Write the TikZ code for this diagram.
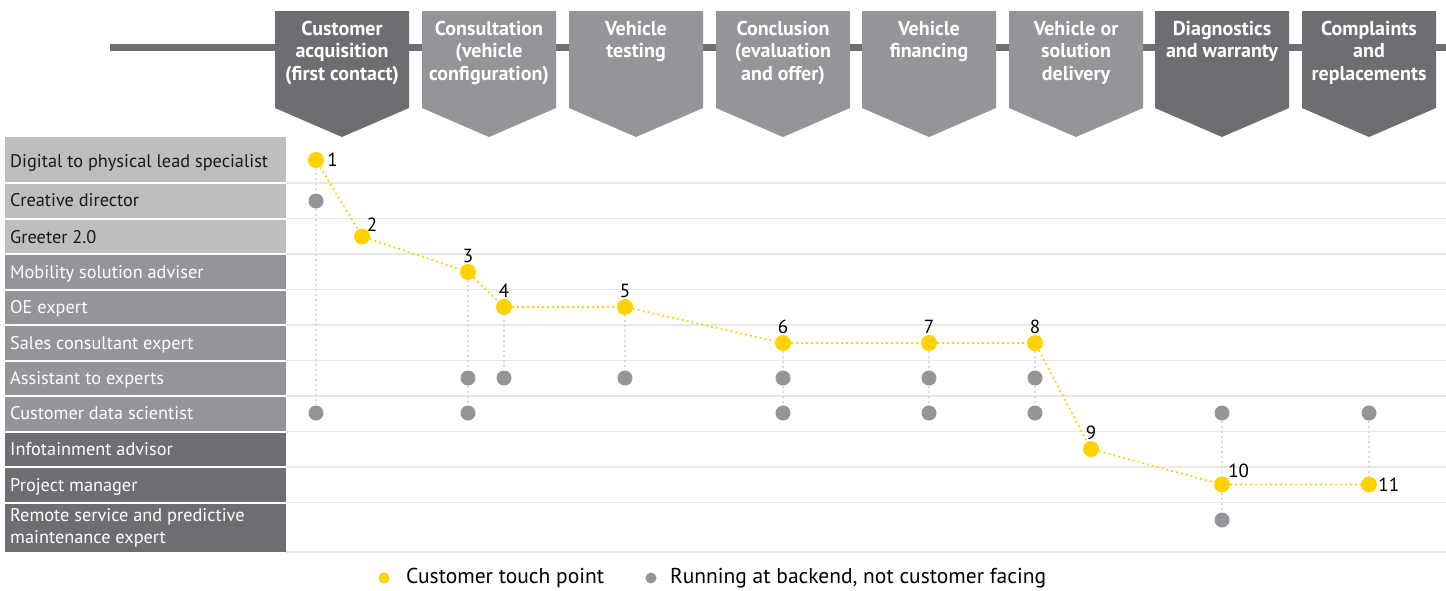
\documentclass[tikz,border=0pt]{standalone}
\usepackage{fontspec}
\setmainfont{PT Sans}
\definecolor{eydark}{HTML}{6D6E71}
\definecolor{eymid}{HTML}{939598}
\definecolor{eylight}{HTML}{BCBEC0}
\definecolor{eyrule}{HTML}{E6E7E8}
\definecolor{eydrop}{HTML}{D9DADB}
\definecolor{eyyellow}{HTML}{FFD200}
\tikzset{
  stagetext/.style={anchor=north, inner sep=0pt, align=center, text=white,
    font=\fontsize{20}{22.5}\selectfont\bfseries},
  rolelabel/.style={anchor=west, inner sep=0pt, align=left,
    font=\fontsize{18.3}{22}\selectfont},
  rolerow/.style={rolelabel, text height=13pt, text depth=0pt},
  touch/.style={circle, fill=eyyellow, inner sep=0pt, minimum size=16},
  backend/.style={circle, fill=eymid, inner sep=0pt, minimum size=15},
  num/.style={font=\fontsize{19}{21}\selectfont, inner sep=1pt},
  keytext/.style={anchor=west, inner sep=0pt, font=\fontsize{21.5}{24}\selectfont},
  touchline/.style={eyyellow, line width=1.8, dash pattern=on 1.8 off 3.2},
  dropline/.style={eydrop, line width=1.8, dash pattern=on 1.8 off 3.2},
}
\begin{document}
\begin{tikzpicture}[x=1pt, y=-1pt]
  \useasboundingbox (0,0) rectangle (1446,590);

  % Zeitachse oben
  \draw[eydark, line width=7] (110,47) -- (1446,47);

  % Phasen (Pfeilkaesten)
  \foreach \cx/\col/\txt in {342/eydark/{Customer\\acquisition\\(first contact)},
      489/eymid/{Consultation\\(vehicle\\configuration)},
      636/eymid/{Vehicle\\testing},
      783/eymid/{Conclusion\\(evaluation\\and offer)},
      929/eymid/{Vehicle\\financing},
      1076/eymid/{Vehicle or\\solution\\delivery},
      1222/eydark/{Diagnostics\\and warranty},
      1369/eydark/{Complaints\\and\\replacements}}{
    \fill[\col] (\cx-67,11) -- (\cx+67,11) -- (\cx+67,108) -- (\cx,137) -- (\cx-67,108) -- cycle;
    \node[stagetext] (stage\cx) at (\cx,21) {\txt};
  }

  % Rollen-Spalte links
  \fill[eylight] (5,137) rectangle (286,254);
  \fill[eymid] (5,254) rectangle (286,431.5);
  \fill[eydark] (5,431.5) rectangle (286,552);
  \foreach \ry in {183,218.5,254,289.5,325,360.5,396,431.5,467,502.5}{
    \draw[white, line width=2] (5,\ry) -- (286,\ry);
    \draw[eyrule, line width=1.5] (286,\ry) -- (1446,\ry);
  }
  \draw[eyrule, line width=1.5] (286,552) -- (1446,552);

  \node[rolerow, text=black!90] (r1) at (10,161) {Digital to physical lead specialist};
  \node[rolerow, text=black!90] (r2) at (10,200) {Creative director};
  \node[rolerow, text=black!90] (r3) at (10,237) {Greeter 2.0};
  \node[rolerow, text=white] (r4) at (10,272) {Mobility solution adviser};
  \node[rolerow, text=white] (r5) at (10,307) {OE expert};
  \node[rolerow, text=white] (r6) at (10,343) {Sales consultant expert};
  \node[rolerow, text=white] (r7) at (10,378) {Assistant to experts};
  \node[rolerow, text=white] (r8) at (10,413) {Customer data scientist};
  \node[rolerow, text=white] (r9) at (10,449) {Infotainment advisor};
  \node[rolerow, text=white] (r10) at (10,484.5) {Project manager};
  \node[rolelabel, text=white] (r11) at (10,528) {Remote service and predictive\\maintenance expert};

  % Touch points
  \node[touch, label={[num, label distance=2]right:1}] (p1) at (316,160) {};
  \node[touch, label={[num, label distance=-3]above right:2}] (p2) at (362,236.5) {};
  \node[touch, label={[num]above:3}] (p3) at (468,272) {};
  \node[touch, label={[num]above:4}] (p4) at (504,307) {};
  \node[touch, label={[num]above:5}] (p5) at (625,307) {};
  \node[touch, label={[num]above:6}] (p6) at (783,343) {};
  \node[touch, label={[num]above:7}] (p7) at (929,343) {};
  \node[touch, label={[num]above:8}] (p8) at (1035,343) {};
  \node[touch, label={[num]above:9}] (p9) at (1091,449) {};
  \node[touch, label={[num, label distance=-1]above right:10}] (p10) at (1222,484.5) {};
  \node[touch, label={[num]right:11}] (p11) at (1369,484.5) {};

  % Backend-Punkte
  \node[backend] (g1) at (316,201) {};
  \node[backend] (g2) at (316,413) {};
  \node[backend] (g3) at (468,378) {};
  \node[backend] (g4) at (468,413) {};
  \node[backend] (g5) at (504,378) {};
  \node[backend] (g6) at (625,378) {};
  \node[backend] (g7) at (783,378) {};
  \node[backend] (g8) at (783,413) {};
  \node[backend] (g9) at (929,378) {};
  \node[backend] (g10) at (929,413) {};
  \node[backend] (g11) at (1035,378) {};
  \node[backend] (g12) at (1035,413) {};
  \node[backend] (g13) at (1222,413) {};
  \node[backend] (g14) at (1222,520) {};
  \node[backend] (g15) at (1369,413) {};

  % Senkrechte Verbindungen
  \draw[dropline] (p1) -- (g1) -- (g2);
  \draw[dropline] (p3) -- (g3) -- (g4);
  \draw[dropline] (p4) -- (g5);
  \draw[dropline] (p5) -- (g6);
  \draw[dropline] (p6) -- (g7) -- (g8);
  \draw[dropline] (p7) -- (g9) -- (g10);
  \draw[dropline] (p8) -- (g11) -- (g12);
  \draw[dropline] (g13) -- (p10) -- (g14);
  \draw[dropline] (g15) -- (p11);

  % Kundenpfad
  \draw[touchline] (p1) -- (p2) -- (p3) -- (p4) -- (p5) -- (p6) -- (p7) -- (p8) -- (p9) -- (p10) -- (p11);

  % Legende
  \node[circle, fill=eyyellow, inner sep=0pt, minimum size=11] (k1) at (384,578) {};
  \node[keytext] (k1t) at (406,578) {Customer touch point};
  \node[circle, fill=eymid, inner sep=0pt, minimum size=11] (k2) at (651,578) {};
  \node[keytext] (k2t) at (670,578) {Running at backend, not customer facing};
\end{tikzpicture}
\end{document}
